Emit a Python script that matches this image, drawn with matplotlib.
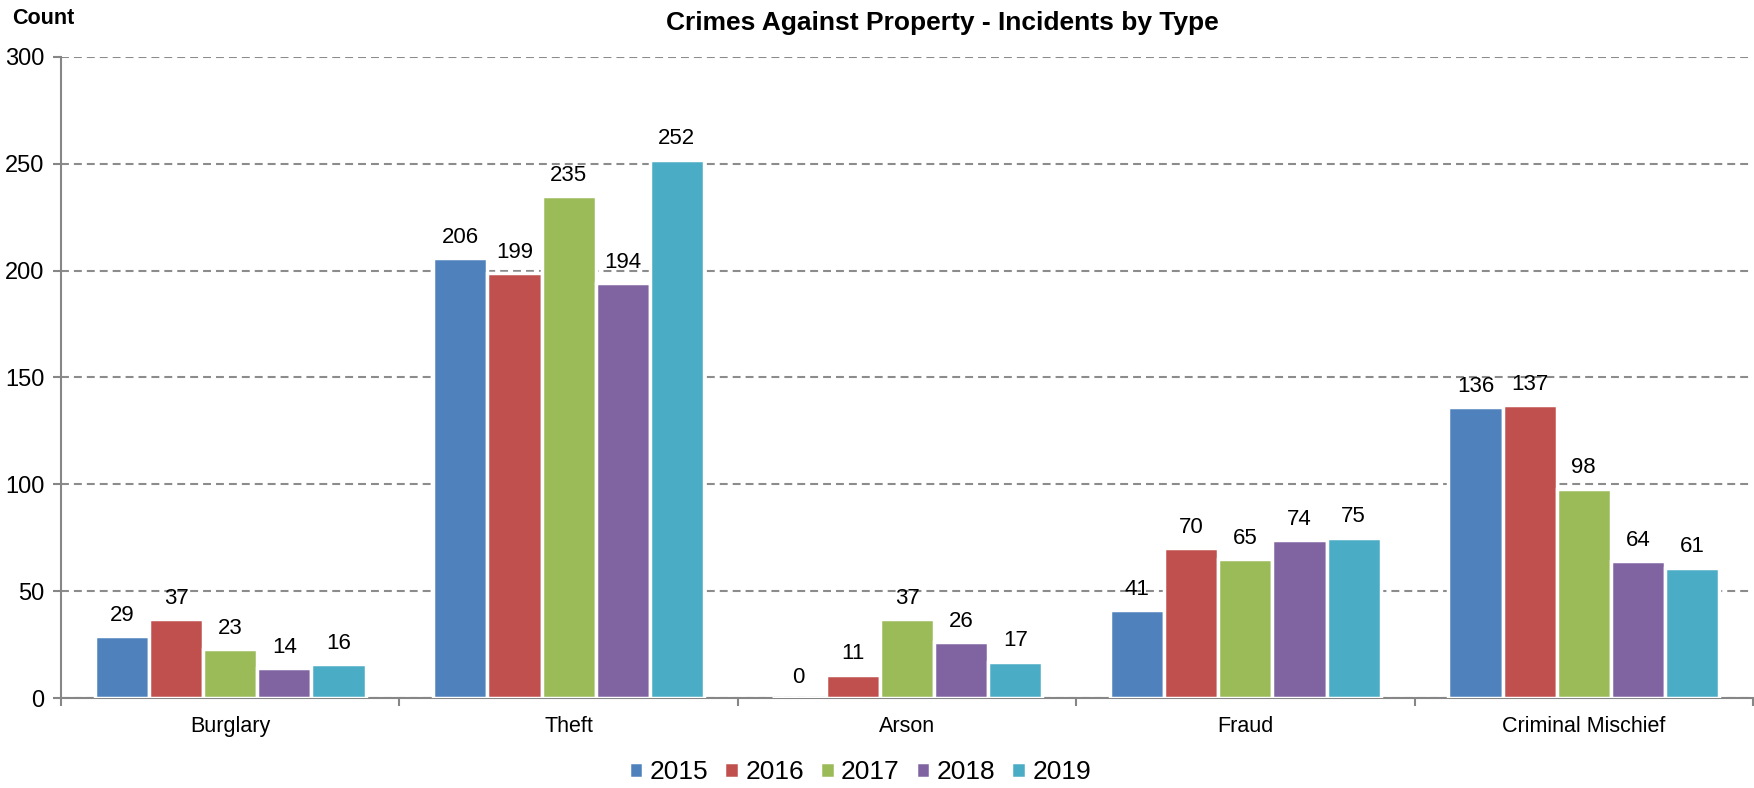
import matplotlib
matplotlib.use("Agg")
import matplotlib.pyplot as plt
import numpy as np

# ------------------------------------------------------------
# Data
# ------------------------------------------------------------
categories = ["Burglary", "Theft", "Arson", "Fraud", "Criminal Mischief"]
years = ["2015", "2016", "2017", "2018", "2019"]
counts_2015 = [29, 206, 0, 41, 136]
counts_2016 = [37, 199, 11, 70, 137]
counts_2017 = [23, 235, 37, 65, 98]
counts_2018 = [14, 194, 26, 74, 64]
counts_2019 = [16, 252, 17, 75, 61]
series = [counts_2015, counts_2016, counts_2017, counts_2018, counts_2019]
colors = ["#4F81BD", "#C0504D", "#9BBB59", "#8064A2", "#4BACC6"]

plt.rcParams["font.family"] = ["Liberation Sans", "DejaVu Sans"]

fig = plt.figure(figsize=(17.54, 7.88), dpi=100)
ax = fig.add_axes([0.0348, 0.1142, 0.9646, 0.8135])

x = np.arange(len(categories))
slot = 0.16
bar_w = 0.16
for i, (vals, col, yr) in enumerate(zip(series, colors, years)):
    pos = x + (i - 2) * slot
    bars = ax.bar(pos, vals, width=bar_w, color=col, edgecolor="white",
                  linewidth=2.5, label=yr, zorder=3)
    for b, v in zip(bars, vals):
        ax.annotate(f"{v}", (b.get_x() + b.get_width() / 2, v),
                    xytext=(0, 11), textcoords="offset points",
                    ha="center", va="baseline", fontsize=16, zorder=4)

ax.set_xlim(-0.5, len(categories) - 0.5)
ax.set_ylim(0, 300)
ax.set_yticks(np.arange(0, 301, 50))
ax.yaxis.grid(True, linestyle=(0, (3.8, 2.4)), color="#8c8c8c", linewidth=1.5, zorder=0)
ax.set_axisbelow(True)

ax.set_xticks(x)
ax.set_xticklabels(categories, fontsize=15.5)
ax.set_xticks(np.arange(-0.5, len(categories)), minor=True)
ax.tick_params(axis="x", which="major", length=0, pad=13)
ax.tick_params(axis="x", which="minor", length=6, width=1.5, color="#868686")
ax.tick_params(axis="y", length=6, width=1.5, color="#868686", labelsize=17, pad=6)

for s in ["top", "right"]:
    ax.spines[s].set_visible(False)
for s in ["left", "bottom"]:
    ax.spines[s].set_color("#868686")
    ax.spines[s].set_linewidth(1.5)

fig.text(942 / 1754, 1 - 30 / 788, "Crimes Against Property - Incidents by Type",
         ha="center", va="baseline", fontsize=19, fontweight="bold")
fig.text(12 / 1754, 1 - 24 / 788, "Count", ha="left", va="baseline",
         fontsize=15.5, fontweight="bold")

ax.legend(loc="center", bbox_to_anchor=(860 / 1754, 1 - 772 / 788),
          bbox_transform=fig.transFigure, ncol=5, frameon=False, fontsize=19,
          handlelength=0.55, handleheight=0.55, handletextpad=0.25,
          columnspacing=0.6)

plt.savefig("out.png", dpi=100)
plt.close()
